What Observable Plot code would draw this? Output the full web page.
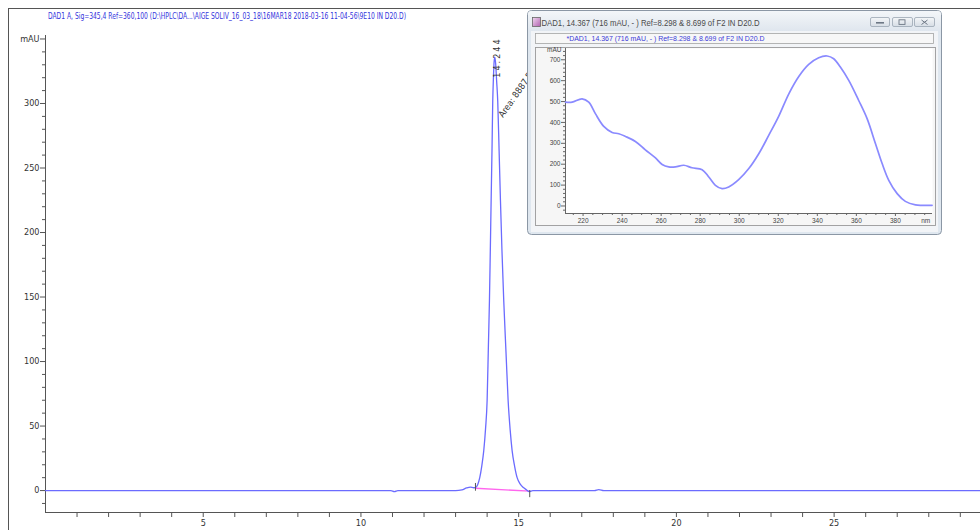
<!DOCTYPE html>
<html>
<head>
<meta charset="utf-8">
<script src="https://cdn.jsdelivr.net/npm/d3@7"></script>
<script src="https://cdn.jsdelivr.net/npm/@observablehq/plot@0.6"></script>
<style>
  body { margin: 0; background: #fff; }
  #wrap { position: relative; width: 980px; height: 530px; overflow: hidden; background: #fff; }
  .abs { position: absolute; }
  .narrow { font-family: "Liberation Sans Narrow", "DejaVu Sans Condensed", "Liberation Sans", sans-serif; }
</style>
</head>
<body>
<div id="wrap">
  <div id="main" class="abs" style="left:0;top:0"></div>
  <svg class="abs" style="left:0;top:0" width="980" height="530">
    <line x1="8" y1="8.5" x2="980" y2="8.5" stroke="#555" stroke-width="1"/>
    <line x1="8.5" y1="8" x2="8.5" y2="530" stroke="#555" stroke-width="1"/>
  </svg>
  <svg class="abs narrow" style="left:0;top:0" width="980" height="30">
    <text id="mainTitle" x="48" y="19" font-size="9" fill="#3333dd" textLength="358" lengthAdjust="spacingAndGlyphs"></text>
  </svg>
  <div id="win" class="abs" style="left:527px;top:10px;width:415px;height:225px">
    <svg class="abs" style="left:0;top:0" width="415" height="225" font-family="Liberation Sans, Arial, sans-serif">
      <defs>
        <linearGradient id="tb" x1="0" y1="0" x2="0" y2="1">
          <stop offset="0" stop-color="#f3f6f9"/>
          <stop offset="1" stop-color="#dfe6ee"/>
        </linearGradient>
        <linearGradient id="btn" x1="0" y1="0" x2="0" y2="1">
          <stop offset="0" stop-color="#f4f6f8"/>
          <stop offset="1" stop-color="#d6dde5"/>
        </linearGradient>
        <linearGradient id="ico" x1="0" y1="0" x2="1" y2="1">
          <stop offset="0" stop-color="#f0d8f0"/>
          <stop offset="1" stop-color="#b060b0"/>
        </linearGradient>
      </defs>
      <rect x="0.5" y="0.5" width="414" height="224" rx="4" fill="#dfe7ef" stroke="#8b97a5"/>
      <rect x="1" y="1" width="413" height="20" rx="3" fill="url(#tb)"/>
      <rect x="5.5" y="7.5" width="8" height="9" fill="url(#ico)" stroke="#666" stroke-width="0.8"/>
      <text id="winTitle" x="14.5" y="16" font-size="8.5" fill="#4a4a4a" textLength="218" lengthAdjust="spacingAndGlyphs"></text>
      <rect x="343.5" y="7.5" width="19" height="9" rx="1.5" fill="url(#btn)" stroke="#9aa6b3" stroke-width="0.8"/>
      <rect x="349" y="12" width="8" height="1.6" fill="#6d7785"/>
      <rect x="365.5" y="7.5" width="20" height="9" rx="1.5" fill="url(#btn)" stroke="#9aa6b3" stroke-width="0.8"/>
      <rect x="372" y="9.8" width="6" height="4.6" fill="none" stroke="#6d7785" stroke-width="0.9"/>
      <rect x="387.5" y="7.5" width="20" height="9" rx="1.5" fill="url(#btn)" stroke="#9aa6b3" stroke-width="0.8"/>
      <path d="M394.5 10 L400.5 14.5 M400.5 10 L394.5 14.5" stroke="#6d7785" stroke-width="1"/>
      <rect x="4" y="21" width="407" height="201" fill="#f2f4f7"/>
      <rect x="8.5" y="23.5" width="398" height="10" fill="#f7f7f7" stroke="#a3a3a3" stroke-width="0.8"/>
      <text id="winSub" x="39.5" y="31" font-size="7.5" fill="#3b3bd8" textLength="198" lengthAdjust="spacingAndGlyphs"></text>
      <rect x="8.5" y="37.5" width="400" height="178" fill="#f6f6f6" stroke="#9a9a9a" stroke-width="0.9"/>
    </svg>
    <div id="inset" class="abs" style="left:8px;top:37px"></div>
  </div>
</div>
<script>
// ---------------- Data ----------------
const titleMain = "DAD1 A, Sig=345,4 Ref=360,100 (D:\\HPLC\\DA...\\AIGE SOLIV_16_03_18\\16MAR18 2018-03-16 11-04-56\\9E10 IN D20.D)";
const titleWindow = "DAD1, 14.367 (716 mAU, - ) Ref=8.298 & 8.699 of F2 IN D20.D";
const titleSpectrum = "*DAD1, 14.367 (716 mAU, - ) Ref=8.298 & 8.699 of F2 IN D20.D";

// Chromatogram (retention time in min, absorbance in mAU)
const chromTime = [0, 2, 4, 6, 8, 10, 10.95, 11.06, 11.17, 12, 13.0, 13.2, 13.35, 13.47, 13.57, 13.63, 13.70, 13.766, 13.83, 13.893, 13.95, 14.0, 14.04, 14.073, 14.10, 14.127, 14.155, 14.178, 14.20, 14.22, 14.244, 14.27, 14.30, 14.336, 14.38, 14.422, 14.47, 14.527, 14.60, 14.665, 14.73, 14.792, 14.87, 14.951, 15.05, 15.15, 15.25, 15.33, 15.45, 16, 17, 17.4, 17.54, 17.7, 18, 20, 22, 24, 26, 28, 29.64];
const chromAbs  = [0, 0, 0, 0, 0, 0, 0, -0.8, 0, 0, 0, 0.5, 2.0, 2.6, 2.2, 2.3, 4.5, 10, 19, 31, 48, 70, 112, 147, 185, 225, 265, 302, 320, 332, 336, 331, 318, 302, 263, 225, 186, 147, 106, 70, 47, 31, 19, 10, 5, 2.3, 0.5, -0.8, 0, 0, 0, 0, 0.8, 0, 0, 0, 0, 0, 0, 0, 0];

// Integration baseline and peak start / end markers
const baseTime = [13.63, 15.35];
const baseAbs  = [1.8, -0.5];
const markTime = [13.63, 15.35];
const markLow  = [-0.5, -5.5];
const markHigh = [5.5, 0];

const peakLabel = "14.244";
const areaLabel = "Area: 8887.51";

const yMajor = [0, 50, 100, 150, 200, 250, 300];
const yMinor = [-10, 10, 20, 30, 40, 60, 70, 80, 90, 110, 120, 130, 140, 160, 170, 180, 190, 210, 220, 230, 240, 260, 270, 280, 290, 310, 320, 330, 340];
const xMajor = [5, 10, 15, 20, 25];
const xMinor = [1, 2, 3, 4, 6, 7, 8, 9, 11, 12, 13, 14, 16, 17, 18, 19, 21, 22, 23, 24, 26, 27, 28, 29];

// UV spectrum (wavelength nm, absorbance mAU)
const specNm  = [211, 214.4, 219.5, 222.9, 226.3, 230.6, 234.9, 238.3, 241.7, 246.8, 251.9, 257.1, 260.5, 263.9, 267.3, 271.6, 275.8, 281, 284.4, 287.8, 291.2, 294.6, 299.7, 304.9, 310, 315.1, 320.2, 325.4, 330.5, 335.6, 340.7, 345, 348.4, 351.8, 356.1, 361.2, 365.5, 369.8, 373.2, 376.6, 380.9, 385.1, 390.3, 393.7, 398.8];
const specAbs = [497, 497, 513, 497, 442, 381, 352, 346, 333, 309, 269, 230, 199, 187, 187, 195, 183, 174, 139, 99, 83, 91, 126, 179, 250, 338, 429, 537, 620, 678, 710, 718, 705, 665, 601, 505, 418, 298, 203, 123, 59, 22, 5, 3, 3];
const specYMajor = [0, 100, 200, 300, 400, 500, 600, 700];
const specYMinor = [-20, 20, 40, 60, 80, 120, 140, 160, 180, 220, 240, 260, 280, 320, 340, 360, 380, 420, 440, 460, 480, 520, 540, 560, 580, 620, 640, 660, 680, 720, 740];
const specXMajor = [220, 240, 260, 280, 300, 320, 340, 360, 380];
const specXMinor = [215, 225, 230, 235, 245, 250, 255, 265, 270, 275, 285, 290, 295, 305, 310, 315, 325, 330, 335, 345, 350, 355, 365, 370, 375, 385, 390, 395];

// ---------------- Build ----------------
document.getElementById("mainTitle").textContent = titleMain;
document.getElementById("winTitle").textContent = titleWindow;
document.getElementById("winSub").textContent = titleSpectrum;

const chrom = chromTime.map((t, i) => ({t, v: chromAbs[i]}));
const base = baseTime.map((t, i) => ({t, v: baseAbs[i]}));
const marks = markTime.map((t, i) => ({t, y1: markLow[i], y2: markHigh[i]}));
const spec = specNm.map((nm, i) => ({nm, v: specAbs[i]}));

const narrowFont = '"Liberation Sans Narrow", "DejaVu Sans Condensed", "Liberation Sans", sans-serif';
const blank = () => "";

const main = Plot.plot({
  width: 980, height: 530,
  marginLeft: 45, marginRight: 0, marginTop: 35, marginBottom: 18,
  x: {domain: [0, 29.64]},
  y: {domain: [-17, 352.7]},
  style: {background: "transparent", fontFamily: narrowFont, fontSize: "9px", color: "#333"},
  marks: [
    Plot.ruleX([0], {stroke: "#555", strokeWidth: 1}),
    Plot.ruleY([-17], {stroke: "#555", strokeWidth: 1}),
    Plot.axisY({ticks: yMajor, tickSize: 5, tickPadding: 1, label: null, stroke: "#555"}),
    Plot.axisY({ticks: yMinor, tickSize: 3, tickFormat: blank, label: null, stroke: "#555"}),
    Plot.axisY({ticks: [350], tickSize: 5, tickPadding: 1, tickFormat: () => "mAU", label: null, stroke: "#555"}),
    Plot.axisX({ticks: xMajor, tickSize: 5, tickPadding: 2, label: null, stroke: "#555"}),
    Plot.axisX({ticks: xMinor, tickSize: 5, tickFormat: blank, label: null, stroke: "#555"}),
    Plot.line(base, {x: "t", y: "v", stroke: "#ff66ee", strokeWidth: 1.3}),
    Plot.line(chrom, {x: "t", y: "v", stroke: "#6b6bff", strokeWidth: 1.3, curve: "monotone-x"}),
    Plot.ruleX(marks, {x: "t", y1: "y1", y2: "y2", stroke: "#555", strokeWidth: 1}),
    Plot.text([peakLabel], {x: [14.31], y: [320], text: d => d, rotate: -90, textAnchor: "start", fill: "#333", fontSize: 9}),
    Plot.text([areaLabel], {x: [14.43], y: [290], text: d => d, rotate: -55, textAnchor: "start", fill: "#333", fontSize: 9})
  ]
});
d3.select(main).selectAll("text").filter(function() { return this.textContent === peakLabel; })
  .attr("letter-spacing", "2");
document.getElementById("main").appendChild(main);

const inset = Plot.plot({
  width: 400, height: 179,
  marginLeft: 30, marginRight: 3, marginTop: 1, marginBottom: 13,
  x: {domain: [211, 399]},
  y: {domain: [-36, 754]},
  style: {background: "transparent", fontFamily: '"Liberation Sans", Arial, sans-serif', fontSize: "6.5px", color: "#444"},
  marks: [
    Plot.frame({fill: "white", stroke: null}),
    Plot.ruleX([211], {stroke: "#666"}),
    Plot.ruleY([-36], {stroke: "#666"}),
    Plot.axisY({ticks: specYMajor, tickSize: 4, tickPadding: 1, label: null, stroke: "#666"}),
    Plot.axisY({ticks: specYMinor, tickSize: 2, tickFormat: blank, label: null, stroke: "#666"}),
    Plot.axisY({ticks: [745], tickSize: 0, tickPadding: 4, tickFormat: () => "mAU", label: null}),
    Plot.axisX({ticks: specXMajor, tickSize: 3, tickPadding: 2, label: null, stroke: "#666"}),
    Plot.axisX({ticks: specXMinor, tickSize: 2, tickFormat: blank, label: null, stroke: "#666"}),
    Plot.axisX({ticks: [395.5], tickSize: 0, tickPadding: 5, tickFormat: () => "nm", label: null}),
    Plot.line(spec, {x: "nm", y: "v", stroke: "#8a8aff", strokeWidth: 1.7, curve: "catmull-rom"})
  ]
});
document.getElementById("inset").appendChild(inset);
</script>
</body>
</html>
